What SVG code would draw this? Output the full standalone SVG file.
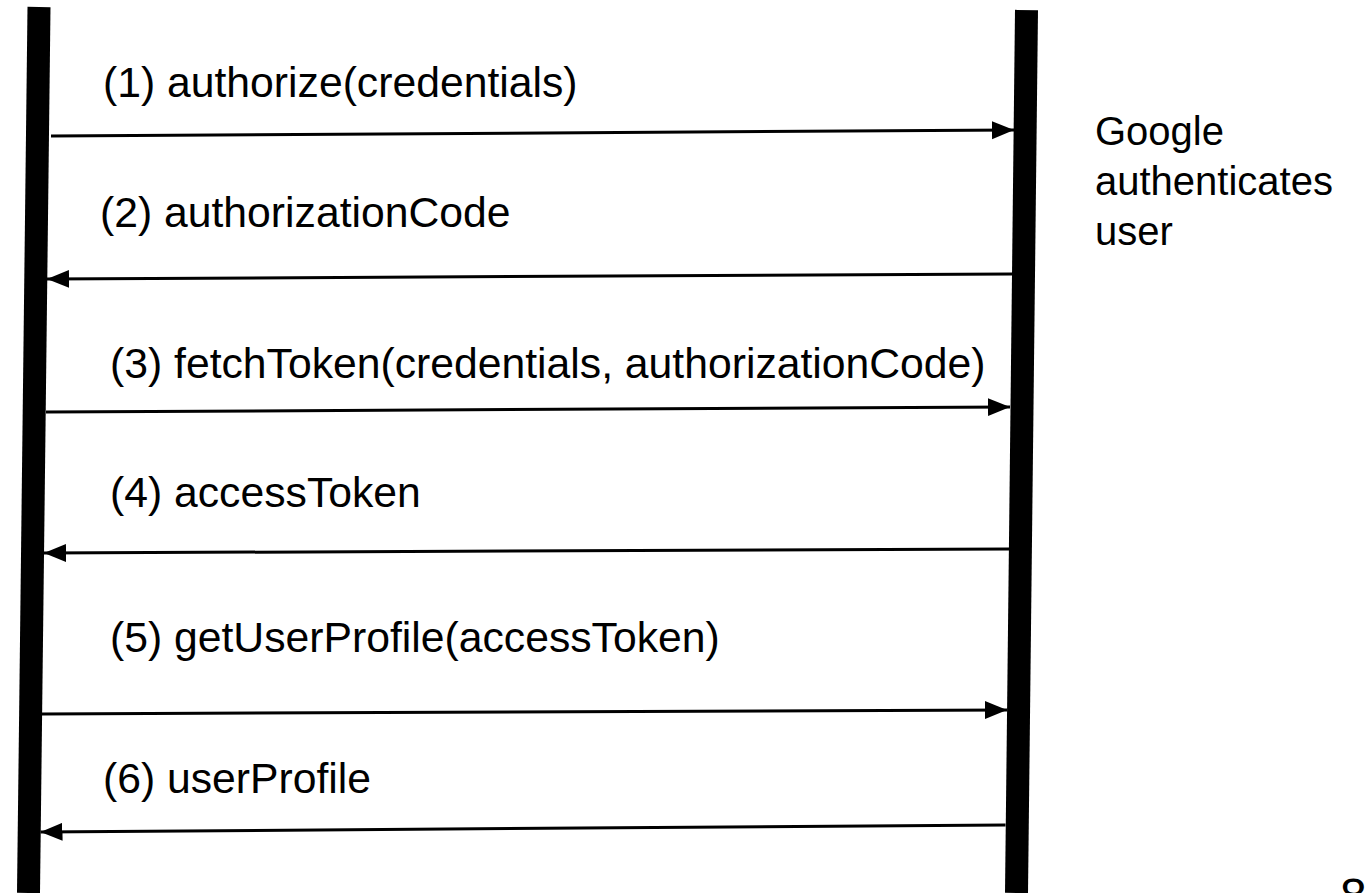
<svg xmlns="http://www.w3.org/2000/svg" width="1365" height="893" viewBox="0 0 1365 893">
<style>
.lbl{font-family:"Liberation Sans",Arial,sans-serif;font-size:42.7px;fill:#000}
.note{font-family:"Liberation Sans",Arial,sans-serif;font-size:40px;fill:#000}
.bar{stroke:#000;stroke-width:23;fill:none}
.msg{stroke:#000;stroke-width:3;fill:none;marker-end:url(#ah)}
</style>
<defs>
<marker id="ah" markerUnits="userSpaceOnUse" markerWidth="24" markerHeight="20" refX="22" refY="9" orient="auto">
<path d="M0,0 L22,9 L0,18 Z" fill="#000"/>
</marker>
</defs>
<rect width="1365" height="893" fill="#fff"/>
<g id="client"><line class="bar" x1="39" y1="7" x2="28.5" y2="893"/></g>
<g id="google"><line class="bar" x1="1026.5" y1="10" x2="1016.5" y2="893"/></g>
<g id="connectors">
<line class="msg" x1="51" y1="136" x2="1014" y2="130"/>
<line class="msg" x1="1012" y1="274" x2="47" y2="279"/>
<line class="msg" x1="46" y1="412" x2="1010" y2="407"/>
<line class="msg" x1="1009" y1="549" x2="44" y2="553"/>
<line class="msg" x1="42" y1="714" x2="1007" y2="710"/>
<line class="msg" x1="1005.5" y1="825" x2="40.5" y2="832"/>
</g>
<g id="labels">
<text class="lbl" x="103" y="97">(1) authorize(credentials)</text>
<text class="lbl" x="100" y="227">(2) authorizationCode</text>
<text class="lbl" x="110" y="378">(3) fetchToken(credentials, authorizationCode)</text>
<text class="lbl" x="110" y="507">(4) accessToken</text>
<text class="lbl" x="110" y="652">(5) getUserProfile(accessToken)</text>
<text class="lbl" x="103" y="793">(6) userProfile</text>
</g>
<g id="note">
<text class="note" x="1095" y="145">Google</text>
<text class="note" x="1095" y="195">authenticates</text>
<text class="note" x="1095" y="245">user</text>
</g>
<text x="1340" y="912" style="font-family:'Liberation Sans',Arial,sans-serif;font-size:48px;fill:#000">8</text>
</svg>
